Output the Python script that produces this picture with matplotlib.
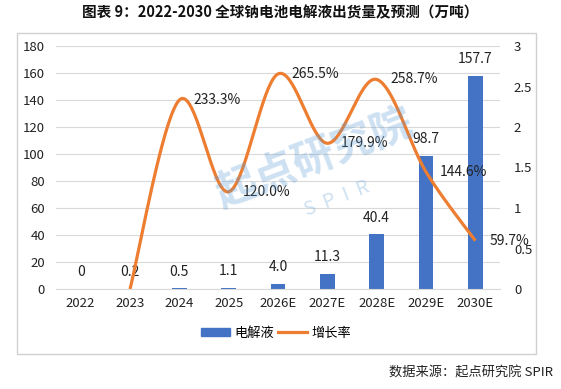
import numpy as np
import matplotlib
matplotlib.use("Agg")
import matplotlib.pyplot as plt
from matplotlib.patches import Rectangle
from matplotlib.lines import Line2D

plt.rcParams["font.family"] = ["Noto Sans CJK SC", "DejaVu Sans"]

years = ["2022", "2023", "2024", "2025", "2026E", "2027E", "2028E", "2029E", "2030E"]
volume = [0, 0.2, 0.5, 1.1, 4.0, 11.3, 40.4, 98.7, 157.7]
vol_labels = ["0", "0.2", "0.5", "1.1", "4.0", "11.3", "40.4", "98.7", "157.7"]
# growth rate, first year has none
growth = [None, 0.0, 2.333, 1.200, 2.655, 1.799, 2.587, 1.446, 0.597]
growth_labels = [None, None, "233.3%", "120.0%", "265.5%", "179.9%", "258.7%", "144.6%", "59.7%"]

BLUE, ORANGE, INK = "#4472C4", "#ED7D31", "#222222"


def catmull(xs, ys, n=40):
    # excel-like smoothed line
    px = np.r_[xs[0], xs, xs[-1]]
    py = np.r_[ys[0], ys, ys[-1]]
    ox, oy = [], []
    for i in range(1, len(px) - 2):
        t = np.linspace(0, 1, n)
        p0, p1, p2, p3 = [np.array([px[j], py[j]]) for j in (i - 1, i, i + 1, i + 2)]
        c1 = p1 + (p2 - p0) / 6
        c2 = p2 - (p3 - p1) / 6
        b = ((1 - t) ** 3)[:, None] * p1 + (3 * (1 - t) ** 2 * t)[:, None] * c1 \
            + (3 * (1 - t) * t ** 2)[:, None] * c2 + (t ** 3)[:, None] * p2
        ox.extend(b[:, 0]); oy.extend(b[:, 1])
    return np.array(ox), np.array(oy)


fig = plt.figure(figsize=(5.61, 3.89), dpi=100)
fig.patches.append(Rectangle((17 / 561, 1 - 354 / 389), 519 / 561, 321 / 389,
                             transform=fig.transFigure, fill=False, ec="#d0d0d0", lw=1))
fig.text(0.5, 1 - 12 / 389, "图表 9：2022-2030 全球钠电池电解液出货量及预测（万吨）",
         ha="center", va="center", fontsize=10.5, fontweight="heavy", color="#111111")

ax = fig.add_axes([56 / 561, 1 - 289 / 389, 444 / 561, 243 / 389])
x = np.arange(len(years))
ax.bar(x, volume, width=0.3, color=BLUE, zorder=2)
for xi, v, lab in zip(x, volume, vol_labels):
    ax.annotate(lab, (xi, v), xytext=(0, 12), textcoords="offset points",
                ha="center", va="center", fontsize=10, color=INK, zorder=5)
ax.set_xlim(-0.5, len(years) - 0.5)
ax.set_ylim(0, 180)
ax.set_yticks(range(0, 181, 20))
ax.set_xticks(x)
ax.set_xticklabels(years)
ax.grid(axis="y", color="#d9d9d9", lw=0.8, zorder=0)
for s in ["top", "right", "left"]:
    ax.spines[s].set_visible(False)
ax.spines["bottom"].set_color("#d9d9d9")
ax.tick_params(length=0, labelsize=9.5, colors=INK, pad=6)
ax.tick_params(axis="y", pad=8)

ax2 = ax.twinx()
gx = np.array([i for i, g in enumerate(growth) if g is not None], dtype=float)
gy = np.array([g for g in growth if g is not None])
sx, sy = catmull(gx, gy)
ax2.plot(sx, sy, color=ORANGE, lw=2.3, solid_capstyle="butt", zorder=3)
for i, lab in enumerate(growth_labels):
    if lab:
        ax2.annotate(lab, (i, growth[i]), xytext=(10, 0), textcoords="offset points",
                     ha="left", va="center", fontsize=10, color=INK, zorder=5)
ax2.set_ylim(0, 3)
ax2.set_yticks([0, 0.5, 1, 1.5, 2, 2.5, 3])
ax2.set_yticklabels(["0", "0.5", "1", "1.5", "2", "2.5", "3"])
for s in ["top", "right", "left", "bottom"]:
    ax2.spines[s].set_visible(False)
ax2.tick_params(length=0, labelsize=9.5, colors=INK, pad=10)

# faint watermark
fig.text(0.56, 0.59, "起点研究院", fontsize=30, color="#5b9bd5", alpha=0.3,
         rotation=21, ha="center", va="center", fontweight="bold")
fig.text(0.60, 0.49, "S  P  I  R", fontsize=14, color="#5b9bd5", alpha=0.3,
         rotation=21, ha="center", va="center")

handles = [Rectangle((0, 0), 1, 1, color=BLUE), Line2D([], [], color=ORANGE, lw=2.3)]
fig.legend(handles, ["电解液", "增长率"], loc="center", bbox_to_anchor=(276 / 561, 1 - 333 / 389),
           ncol=2, frameon=False, fontsize=9.5, handlelength=2.2, handleheight=0.6,
           columnspacing=0.3, handletextpad=0.3)

fig.text(553 / 561, 1 - 373 / 389, "数据来源：起点研究院 SPIR", ha="right", va="center",
         fontsize=9.5, color=INK)

fig.savefig("out.png", dpi=100)
